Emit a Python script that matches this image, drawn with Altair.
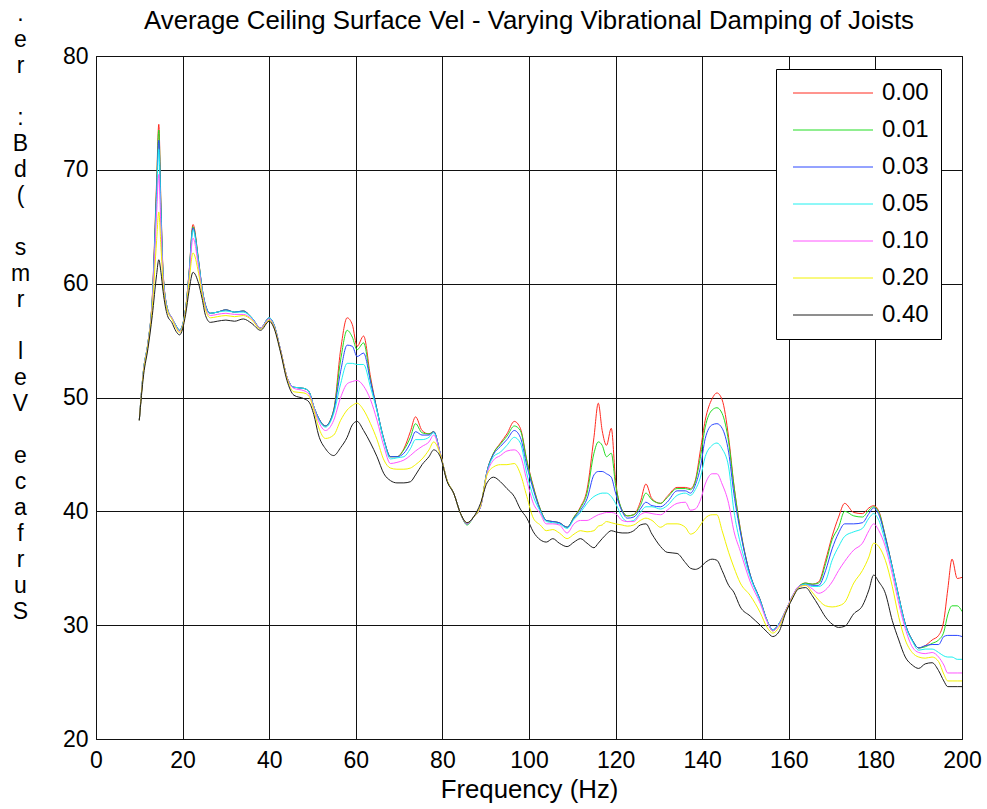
import altair as alt
import pandas as pd

# Frequency grid (Hz) shared by every damping case
freq = [10, 11, 12, 13, 14, 14.5, 15, 15.5, 16.5, 17.5,
        18.5, 19.3, 20.7, 21.5, 22.4, 23.7, 24.5, 25.3, 26.4, 28,
        30, 32, 34, 36, 38, 40, 41, 42.6, 44.1, 45.7,
        48, 49.2, 50.3, 51.4, 53, 54.9, 56.5, 58, 59.2, 60.3,
        61.8, 63.4, 64.9, 66.5, 68, 69.5, 71.1, 72.6, 73.8, 75.3,
        76.9, 78, 79.5, 81.1, 82.6, 84.2, 85.7, 87.2, 88.8, 90.3,
        91.8, 93.4, 94.9, 96.6, 98, 99.5, 101, 102.6, 104, 105.5,
        107, 108.8, 110.4, 111.9, 113.4, 115, 116, 116.9, 117.9, 119,
        120, 121.5, 122.7, 124.2, 125.7, 127, 128.4, 130.4, 131.9, 134.2,
        136.1, 137.3, 138.4, 139.6, 140.7, 142.3, 143.4, 144.6, 146.1, 147.3,
        148.8, 151.1, 153.4, 155, 156.3, 157.7, 159.2, 160.8, 162.3, 163.9,
        165.4, 166.9, 168.5, 170, 171.5, 172.9, 175, 177, 178.5, 179.6,
        180.8, 182.3, 183.9, 185.4, 186.9, 188.5, 190, 191.5, 193.1, 194.6,
        195.8, 196.7, 197.7, 198.9, 200]

# Average ceiling surface velocity (dB) for each joist damping loss factor
vel_000 = [48.0, 52.5, 54.8, 58.8, 69.0, 74.0, 67.0, 61.0, 57.8, 57.0,
           56.3, 55.9, 57.8, 61.0, 65.2, 62.0, 59.6, 58.1, 57.4, 57.5,
           57.7, 57.5, 57.6, 57.0, 56.1, 57.0, 56.5, 54.2, 51.8, 50.9,
           50.8, 50.5, 49.2, 48.2, 47.5, 48.9, 54.2, 57.0, 56.4, 54.5,
           55.4, 51.8, 48.9, 46.3, 44.8, 44.8, 45.5, 47.0, 48.3, 47.1,
           46.8, 47.0, 45.1, 42.7, 41.6, 39.8, 38.9, 39.5, 40.4, 43.5,
           45.1, 46.0, 46.8, 47.9, 47.3, 44.5, 42.2, 40.2, 39.2, 39.1,
           39.0, 38.6, 39.5, 40.4, 41.9, 46.5, 49.5, 47.1, 45.8, 47.3,
           42.7, 40.1, 39.6, 39.7, 40.8, 42.4, 41.1, 40.7, 41.3, 42.1,
           42.1, 42.0, 42.7, 45.4, 48.0, 49.9, 50.4, 49.8, 46.5, 42.4,
           38.5, 34.4, 32.2, 30.4, 29.6, 30.1, 31.2, 32.5, 33.4, 33.7,
           33.6, 33.8, 35.7, 37.8, 39.5, 40.7, 39.9, 39.8, 40.3, 40.5,
           40.0, 37.8, 35.1, 32.5, 30.1, 28.7, 28.0, 28.2, 28.7, 29.1,
           30.4, 33.1, 35.8, 34.1, 34.2]
vel_001 = [48.0, 52.5, 54.8, 58.7, 68.5, 73.5, 66.7, 60.9, 57.8, 57.0,
           56.3, 55.9, 57.8, 61.0, 65.0, 62.0, 59.6, 58.1, 57.4, 57.5,
           57.7, 57.5, 57.6, 57.0, 56.1, 57.0, 56.5, 54.2, 51.8, 50.9,
           50.8, 50.5, 49.2, 48.2, 47.5, 48.9, 53.3, 55.9, 55.3, 54.2,
           54.8, 51.5, 48.9, 46.3, 44.8, 44.8, 45.4, 46.5, 47.7, 46.9,
           46.8, 47.0, 45.1, 42.7, 41.6, 39.8, 38.8, 39.5, 40.4, 43.5,
           45.1, 45.9, 46.6, 47.5, 47.1, 44.4, 42.1, 40.2, 39.2, 39.1,
           39.0, 38.6, 39.5, 40.3, 41.6, 45.1, 46.1, 45.8, 44.8, 45.1,
           42.3, 40.1, 39.6, 39.7, 40.5, 41.6, 41.0, 40.7, 41.2, 42.0,
           42.0, 41.9, 42.6, 44.8, 47.4, 48.9, 49.1, 48.6, 46.1, 42.3,
           38.4, 34.4, 32.2, 30.4, 29.5, 30.1, 31.2, 32.5, 33.4, 33.7,
           33.6, 33.7, 35.4, 37.5, 38.6, 40.0, 39.6, 39.5, 40.1, 40.4,
           39.9, 37.8, 35.1, 32.5, 30.1, 28.7, 28.0, 28.1, 28.4, 28.7,
           29.4, 30.9, 31.7, 31.7, 31.2]
vel_003 = [48.0, 52.5, 54.8, 58.6, 68.0, 72.6, 66.3, 60.8, 57.8, 57.0,
           56.3, 55.9, 57.8, 60.9, 64.9, 61.9, 59.6, 58.1, 57.4, 57.5,
           57.7, 57.5, 57.6, 57.0, 56.1, 57.0, 56.5, 54.2, 51.8, 50.9,
           50.8, 50.5, 49.2, 48.2, 47.5, 48.8, 52.3, 54.6, 54.5, 53.6,
           53.9, 51.4, 48.9, 46.3, 44.8, 44.8, 45.1, 46.0, 47.0, 46.7,
           46.7, 47.0, 45.1, 42.7, 41.6, 39.8, 38.9, 39.5, 40.4, 43.5,
           45.0, 45.7, 46.3, 47.1, 46.5, 44.0, 41.9, 40.1, 39.2, 39.1,
           39.0, 38.6, 39.4, 40.1, 41.1, 43.2, 43.5, 43.5, 43.3, 43.0,
           41.6, 40.0, 39.4, 39.5, 40.2, 40.8, 40.5, 40.4, 40.8, 41.8,
           41.8, 41.6, 42.3, 43.9, 46.4, 47.6, 47.7, 47.3, 45.2, 41.6,
           38.2, 34.4, 32.2, 30.4, 29.6, 30.1, 31.2, 32.5, 33.4, 33.6,
           33.5, 33.5, 34.8, 36.7, 38.1, 38.9, 38.9, 39.0, 39.8, 40.3,
           39.7, 37.7, 35.1, 32.5, 30.1, 28.7, 28.0, 28.2, 28.3, 28.3,
           29.0, 29.1, 29.1, 29.1, 29.0]
vel_005 = [48.0, 52.5, 54.8, 58.5, 67.3, 71.8, 65.8, 60.7, 57.8, 57.0,
           56.3, 55.9, 57.8, 60.8, 64.7, 61.8, 59.5, 58.0, 57.4, 57.5,
           57.6, 57.5, 57.5, 57.0, 56.1, 57.0, 56.5, 54.2, 51.8, 50.9,
           50.8, 50.5, 49.2, 48.1, 47.4, 48.6, 51.2, 53.0, 53.0, 52.9,
           52.9, 50.9, 48.8, 46.2, 44.6, 44.7, 44.8, 45.5, 46.3, 46.3,
           46.5, 46.9, 45.1, 42.7, 41.6, 39.8, 38.9, 39.5, 40.4, 43.4,
           44.8, 45.2, 45.8, 46.5, 46.0, 43.3, 41.3, 40.0, 39.1, 39.0,
           38.9, 38.5, 39.3, 39.9, 40.7, 41.3, 41.5, 41.6, 41.6, 41.3,
           40.7, 39.5, 39.1, 39.2, 39.9, 40.4, 40.4, 40.2, 40.5, 41.4,
           41.6, 41.4, 41.9, 43.0, 44.8, 45.8, 46.0, 45.5, 43.9, 40.1,
           37.2, 34.2, 32.1, 30.4, 29.6, 30.1, 31.2, 32.5, 33.4, 33.6,
           33.4, 33.4, 33.9, 35.7, 36.9, 37.8, 38.2, 38.5, 39.4, 39.8,
           39.2, 37.3, 35.0, 32.4, 30.0, 28.6, 27.8, 27.9, 27.9, 27.6,
           27.3, 27.2, 27.2, 27.0, 27.0]
vel_010 = [48.0, 52.4, 54.7, 58.3, 66.2, 69.6, 64.8, 60.5, 57.7, 57.0,
           56.2, 55.8, 57.7, 60.6, 64.0, 61.4, 59.3, 57.9, 57.2, 57.3,
           57.4, 57.3, 57.3, 56.9, 56.1, 56.9, 56.4, 54.2, 51.8, 50.8,
           50.6, 50.3, 49.1, 47.9, 47.1, 48.0, 50.0, 51.2, 51.4, 51.5,
           51.0, 49.8, 48.0, 45.7, 44.2, 44.3, 44.5, 44.9, 45.3, 45.7,
           46.1, 46.7, 45.1, 42.7, 41.6, 39.8, 38.9, 39.5, 40.4, 43.3,
           44.5, 44.9, 45.3, 45.4, 44.9, 42.7, 40.7, 39.8, 38.9, 38.9,
           38.8, 38.1, 38.9, 39.2, 39.2, 39.5, 39.7, 39.8, 39.9, 39.9,
           39.8, 39.2, 39.1, 39.1, 39.7, 39.9, 39.8, 39.7, 40.1, 40.7,
           40.8, 40.1, 40.2, 41.0, 42.4, 43.3, 43.3, 42.4, 40.7, 38.3,
           36.5, 33.8, 31.9, 30.3, 29.5, 30.0, 31.2, 32.5, 33.4, 33.5,
           33.2, 32.8, 33.1, 33.8, 34.8, 35.6, 36.6, 37.2, 38.3, 38.9,
           38.3, 36.9, 34.5, 31.9, 29.7, 28.1, 27.6, 27.5, 27.6, 27.2,
           26.5, 25.8, 25.8, 25.8, 25.8]
vel_020 = [48.0, 52.3, 54.6, 57.9, 63.8, 66.3, 63.2, 60.0, 57.6, 56.9,
           56.1, 55.7, 57.6, 60.2, 62.7, 60.9, 59.1, 57.7, 57.0, 57.1,
           57.2, 57.1, 57.2, 56.8, 56.0, 56.8, 56.3, 54.1, 51.7, 50.5,
           50.4, 50.1, 48.9, 47.4, 46.4, 46.7, 48.0, 48.9, 49.3, 49.5,
           48.9, 47.7, 46.3, 44.5, 43.8, 43.7, 43.7, 43.8, 44.1, 44.6,
           45.4, 46.1, 45.0, 42.7, 41.6, 39.8, 39.0, 39.5, 40.5, 43.2,
           43.9, 44.1, 44.1, 44.2, 43.3, 41.3, 39.4, 38.8, 38.3, 38.4,
           38.1, 37.6, 38.0, 38.3, 38.2, 38.3, 38.7, 38.8, 39.1, 39.0,
           38.9, 38.8, 38.7, 38.8, 39.2, 39.4, 39.2, 38.6, 38.9, 38.9,
           38.6, 38.0, 38.2, 38.8, 39.4, 39.7, 39.7, 38.3, 36.4, 35.1,
           33.7, 32.6, 31.1, 29.8, 29.3, 29.8, 31.1, 32.4, 33.3, 33.5,
           32.9, 32.2, 31.7, 31.6, 31.7, 32.0, 33.7, 34.8, 36.0, 37.2,
           36.9, 35.7, 33.4, 30.7, 28.7, 27.6, 27.2, 27.1, 27.2, 26.8,
           25.7, 25.1, 25.1, 25.1, 25.1]
vel_040 = [48.0, 52.0, 54.3, 57.2, 60.8, 62.1, 61.0, 59.3, 57.2, 56.6,
           55.8, 55.5, 57.3, 59.4, 61.0, 60.0, 58.7, 57.2, 56.6, 56.7,
           56.8, 56.7, 56.9, 56.5, 55.9, 56.7, 56.2, 54.0, 51.5, 50.2,
           49.9, 49.6, 48.5, 46.7, 45.5, 44.9, 45.6, 46.5, 47.6, 47.9,
           47.1, 46.0, 44.8, 43.3, 42.7, 42.5, 42.5, 42.6, 43.2, 44.1,
           44.8, 45.4, 44.8, 42.6, 41.6, 39.8, 39.0, 39.5, 40.7, 42.5,
           43.0, 42.6, 42.0, 41.3, 40.2, 39.4, 38.2, 37.5, 37.3, 37.6,
           37.2, 36.9, 37.3, 37.6, 37.2, 36.8, 37.2, 37.6, 38.0, 38.3,
           38.2, 38.1, 38.1, 38.3, 38.8, 38.9, 38.0, 36.9, 36.4, 36.3,
           35.5, 35.0, 34.9, 35.1, 35.5, 35.8, 35.7, 34.8, 33.5, 32.9,
           31.6, 30.8, 30.0, 29.4, 29.0, 29.4, 31.0, 32.3, 33.2, 33.3,
           32.6, 31.7, 30.7, 30.1, 29.8, 29.9, 31.0, 31.7, 33.1, 34.4,
           33.8, 32.8, 30.4, 28.7, 27.2, 26.5, 26.2, 26.6, 26.7, 26.0,
           25.1, 24.6, 24.6, 24.6, 24.6]

damping = ["0.00", "0.01", "0.03", "0.05", "0.10", "0.20", "0.40"]
series = [vel_000, vel_001, vel_003, vel_005, vel_010, vel_020, vel_040]
line_colors = ["#ff2a1f", "#22dd22", "#2a46ff", "#1ef0f0",
               "#ff55ff", "#f2f200", "#1e1e1e"]

x_ticks = list(range(0, 201, 20))
y_ticks = list(range(20, 81, 10))

# y-axis title, stacked one character per line
# (word gaps use a blank Braille cell so those lines keep their height)
GAP = "\u2800"
y_title = [".", "e", "r", GAP, ":", "B", "d", "(", GAP, "s", "m", "r", GAP,
           "l", "e", "V", GAP, "e", "c", "a", "f", "r", "u", "S"]

rows = []
for name, vals in zip(damping, series):
    assert len(vals) == len(freq), name
    for f, v in zip(freq, vals):
        rows.append({"freq": f, "vel": v, "damping": name})
df = pd.DataFrame(rows)

FONT = "Liberation Sans"

chart = alt.Chart(df).mark_line(strokeWidth=1, clip=True,
                                interpolate="monotone").encode(
    x=alt.X("freq:Q",
            scale=alt.Scale(domain=[0, 200], nice=False, zero=False),
            axis=alt.Axis(values=x_ticks, title="Frequency (Hz)",
                          labelFlush=False, labelPadding=10, titlePadding=5)),
    y=alt.Y("vel:Q",
            scale=alt.Scale(domain=[20, 80], nice=False, zero=False),
            axis=alt.Axis(values=y_ticks, title=y_title, titleAngle=0,
                          titleAlign="center", titleBaseline="alphabetic",
                          titleX=-76, titleY=-36, titleLineHeight=26,
                          titleFontSize=23, labelPadding=8, labelFlush=False)),
    color=alt.Color("damping:N",
                    scale=alt.Scale(domain=damping, range=line_colors),
                    legend=alt.Legend(orient="none", legendX=680, legendY=13,
                                      title=None,
                                      symbolType="M-20,0H20", symbolSize=16,
                                      symbolStrokeWidth=1, symbolOffset=33,
                                      labelFontSize=24, labelFont=FONT,
                                      labelColor="black", labelOffset=37,
                                      padding=12, rowPadding=13,
                                      strokeColor="black", fillColor="white")),
    detail="damping:N",
).properties(
    width=866,
    height=683,
    background="white",
    title=alt.TitleParams(
        "Average Ceiling Surface Vel - Varying Vibrational Damping of Joists",
        fontSize=25.8, font=FONT, fontWeight="normal", color="black",
        anchor="middle", frame="group", offset=0, dy=53,
        baseline="alphabetic"),
    padding={"left": 96, "top": 56, "right": 25, "bottom": 70},
    autosize=alt.AutoSizeParams(type="none"),
).configure_view(
    stroke="black", strokeWidth=1
).configure_axis(
    grid=True, gridColor="#111111", gridOpacity=1, gridWidth=1,
    ticks=False, tickSize=0, domain=False,
    labelFont=FONT, labelFontSize=23, labelColor="black",
    titleFont=FONT, titleFontSize=25.8, titleFontWeight="normal",
    titleColor="black",
)

chart.save("out.html", embed_options={"renderer": "svg", "actions": False})
